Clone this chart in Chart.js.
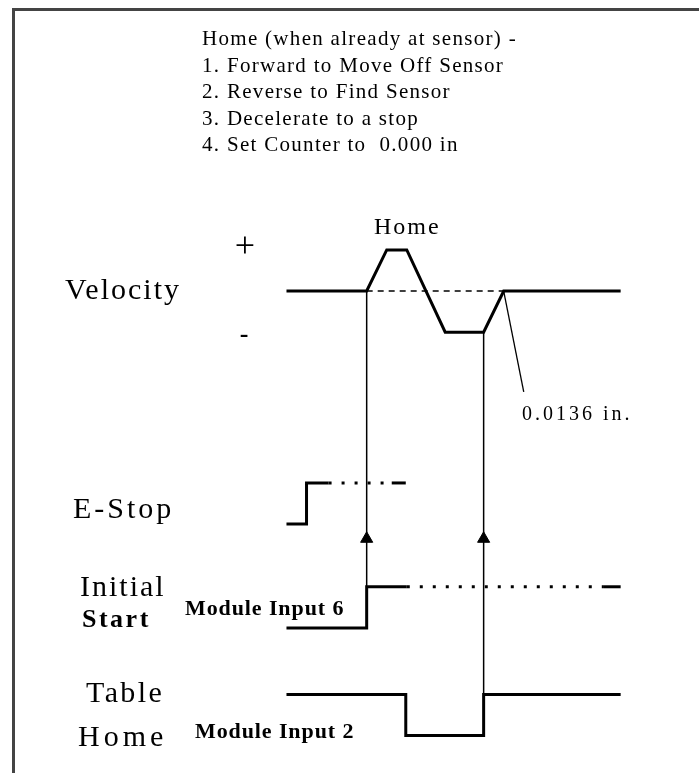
<!DOCTYPE html>
<html>
<head>
<meta charset="utf-8">
<script src="https://cdn.jsdelivr.net/npm/chart.js@4"></script>
<style>
  body { margin: 0; background: #fff; }
  #wrap { width: 699px; height: 773px; }
</style>
</head>
<body>
<div id="wrap"><canvas id="homingChart" width="699" height="773"></canvas></div>
<script>
// tiempos (unidades arbitrarias) y niveles de cada señal
var velTime = [0, 24, 30, 36, 47.5, 59, 65, 100];
var velLevel = [0, 0, 1, 1, -1, -1, 0, 0];
var seekTime = [24, 65];            // linea punteada de referencia
var offsetTime = [65, 71];          // indicador 0.0136 in.
var offsetLevel = [0, -2.45];

var estopTime = [0, 6, 6, 12.6];
var estopLevel = [0, 0, 1, 1];
var estopDots = [12.6, 31.5];
var estopEnd = [31.5, 35.7];

var startTime = [0, 24, 24, 36];
var startLevel = [0, 0, 1, 1];
var startDots = [36, 95];
var startEnd = [95, 100];

var homeTime = [0, 35.7, 35.7, 59, 59, 100];
var homeLevel = [1, 1, 0, 0, 1, 1];

var trigTime = [24, 59];            // flechas de disparo

var headerLines = [
    'Home (when already at sensor) -',
    '1. Forward to Move Off Sensor',
    '2. Reverse to Find Sensor',
    '3. Decelerate to a stop',
    '4. Set Counter to  0.000 in'
];

document.addEventListener('DOMContentLoaded', function () {
    // base de cada pista en el eje y (pixeles) y amplitud de un nivel
    var AMP = 42;
    var base = { vel: 289, estop: 527, start: 633, home: 743 };
    var arrowY = 542;

    function pts(times, levels, b) {
        return times.map(function (t, i) {
            return { x: t, y: b - levels[i] * AMP };
        });
    }
    function flat(times, level, b) {
        return times.map(function (t) { return { x: t, y: b - level * AMP }; });
    }

    var solid = { borderColor: '#000', borderWidth: 3, pointRadius: 0, showLine: true, fill: false, tension: 0 };
    function ds(data, extra) {
        return Object.assign({}, solid, { data: data }, extra || {});
    }

    var datasets = [
        ds(pts(velTime, velLevel, base.vel)),
        ds(flat(seekTime, 0, base.vel), { borderWidth: 1.5, borderDash: [6, 5] }),
        ds(pts(offsetTime, offsetLevel, base.vel), { borderWidth: 1.3 }),

        ds(pts(estopTime, estopLevel, base.estop)),
        ds(flat(estopDots, 1, base.estop), { borderDash: [3, 10] }),
        ds(flat(estopEnd, 1, base.estop)),

        ds(pts(startTime, startLevel, base.start)),
        ds(flat(startDots, 1, base.start), { borderDash: [3, 10] }),
        ds(flat(startEnd, 1, base.start)),

        ds(pts(homeTime, homeLevel, base.home)),

        // lineas de disparo
        ds([{ x: trigTime[0], y: base.vel }, { x: trigTime[0], y: base.start - AMP }], { borderWidth: 1.5 }),
        ds([{ x: trigTime[1], y: base.vel + AMP }, { x: trigTime[1], y: base.home - AMP }], { borderWidth: 1.5 }),
        {
            data: trigTime.map(function (t) { return { x: t, y: arrowY }; }),
            showLine: false, pointStyle: 'triangle', pointRadius: 7,
            backgroundColor: '#000', borderColor: '#000', borderWidth: 1
        }
    ];

    function txt(c, s, x, y, font, spacing) {
        c.font = font;
        c.letterSpacing = (spacing || 0) + 'px';
        c.fillText(s, x, y);
    }

    // texto y marco
    var labels = {
        id: 'labels',
        afterDraw: function (chart) {
            var c = chart.ctx;
            c.save();
            c.strokeStyle = '#444';
            c.lineWidth = 3;
            c.beginPath();
            c.moveTo(13.5, 773);
            c.lineTo(13.5, 9.5);
            c.lineTo(699, 9.5);
            c.stroke();

            c.fillStyle = '#000';
            c.textBaseline = 'alphabetic';
            c.textAlign = 'left';
            headerLines.forEach(function (s, i) {
                txt(c, s, 202, 45 + i * 26.5, '21px "Liberation Serif"', 1.3);
            });

            txt(c, 'Home', 374, 234, '24px "Liberation Serif"', 2);
            txt(c, '0.0136 in.', 522, 420, '20px "Liberation Serif"', 3);

            c.textAlign = 'center';
            txt(c, '+', 245, 257, '36px "Liberation Serif"', 0);
            txt(c, '-', 244, 342, 'bold 26px "Liberation Serif"', 0);

            c.textAlign = 'left';
            txt(c, 'Velocity', 65, 299, '30px "Liberation Serif"', 2);
            txt(c, 'E-Stop', 73, 518, '30px "Liberation Serif"', 3);
            txt(c, 'Initial', 80, 596, '30px "Liberation Serif"', 2);
            txt(c, 'Start', 82, 627, 'bold 26px "Liberation Serif"', 2.5);
            txt(c, 'Table', 86, 702, '30px "Liberation Serif"', 2.4);
            txt(c, 'Home', 78, 746, '30px "Liberation Serif"', 4);

            txt(c, 'Module Input 6', 185, 615, 'bold 22px "Liberation Serif"', 0.9);
            txt(c, 'Module Input 2', 195, 738, 'bold 22px "Liberation Serif"', 0.9);
            c.restore();
        }
    };

    new Chart(document.getElementById('homingChart').getContext('2d'), {
        type: 'scatter',
        data: { datasets: datasets },
        options: {
            responsive: false,
            animation: false,
            layout: { padding: 0 },
            plugins: { legend: { display: false }, tooltip: { enabled: false } },
            elements: { line: { borderCapStyle: 'butt', borderJoinStyle: 'miter' } },
            scales: {
                x: { type: 'linear', display: false, min: -285 / 3.42, max: (699 - 285) / 3.42 },
                y: { type: 'linear', display: false, min: 0, max: 773, reverse: true }
            }
        },
        plugins: [labels]
    });
});
</script>
</body>
</html>
